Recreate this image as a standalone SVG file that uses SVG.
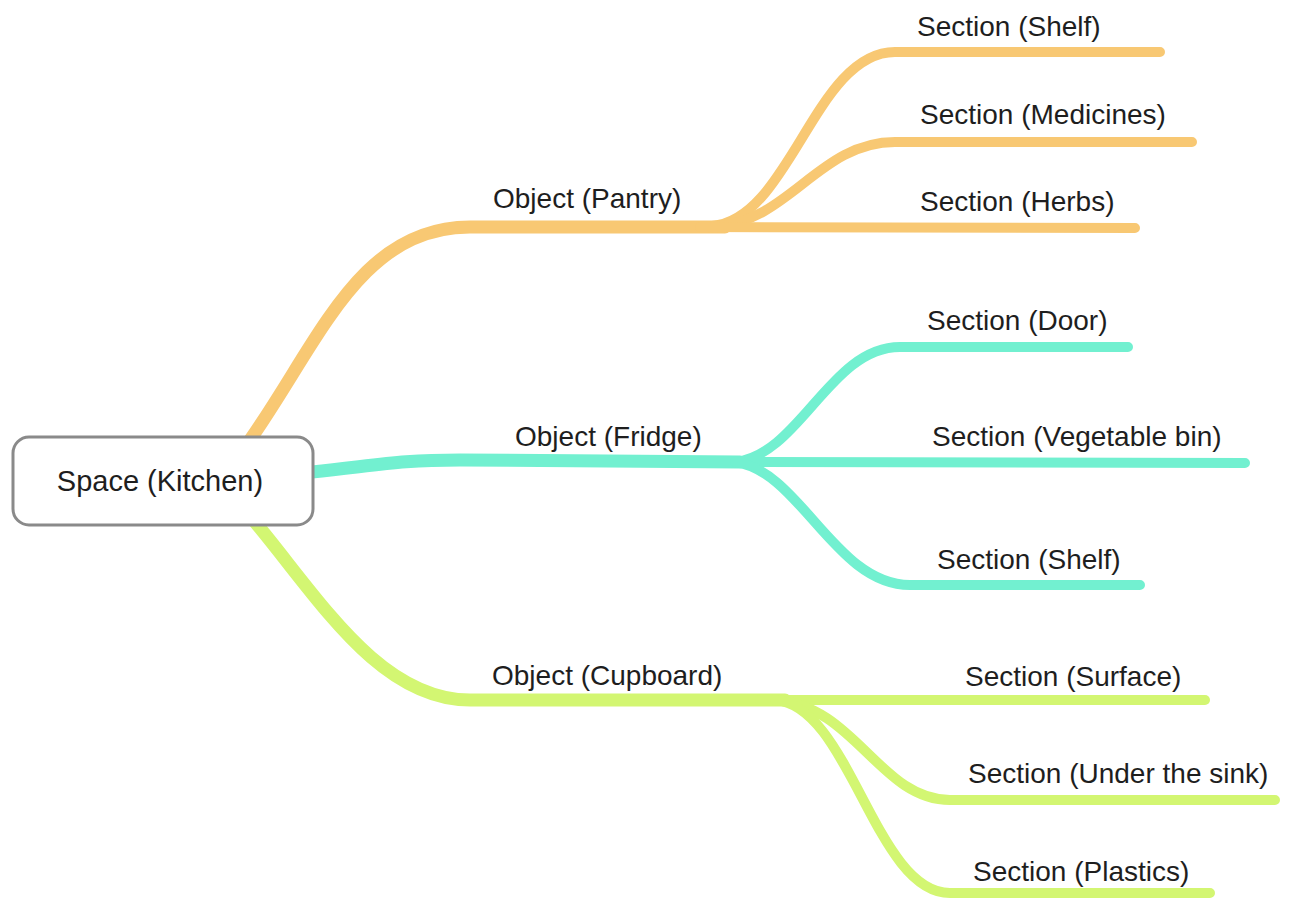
<svg xmlns="http://www.w3.org/2000/svg" width="1301" height="899" viewBox="0 0 1301 899">
<style>
.lbl{font-family:"Liberation Sans",Arial,sans-serif;font-size:28px;fill:#1e1e1e}
.br{fill:none;stroke-linecap:round;stroke-linejoin:round}
.main{stroke-width:13}
.sub{stroke-width:10}
.o{stroke:#F8C873}
.t{stroke:#72F0D0}
.g{stroke:#D3F672}
</style>
<rect width="1301" height="899" fill="#ffffff"/>
<g id="connectors">
<path class="br main o" d="M 250 440 C 320 340 360 227 470 227 L 725 227"/>
<path class="br sub o" d="M 712 226 C 790 220 815 52 895 52 L 1160 52"/>
<path class="br sub o" d="M 718 226 C 790 220 820 142 895 142 L 1192 142"/>
<path class="br sub o" d="M 700 227 L 1135 228"/>
<path class="br main t" d="M 312 472 C 380 465 400 460 460 460 L 740 462"/>
<path class="br sub t" d="M 735 462 C 800 455 830 347 900 347 L 1128 347"/>
<path class="br sub t" d="M 735 462 L 1245 463"/>
<path class="br sub t" d="M 735 462 C 800 470 835 585 910 585 L 1140 585"/>
<path class="br main g" d="M 255 522 C 320 600 380 700 470 700 L 785 700"/>
<path class="br sub g" d="M 760 700 L 1205 700"/>
<path class="br sub g" d="M 775 700 C 855 705 880 800 950 800 L 1275 800"/>
<path class="br sub g" d="M 775 700 C 850 705 875 893 950 893 L 1210 893"/>
</g>
<g id="root">
<rect x="13" y="437" width="300" height="88" rx="16" ry="16" fill="#ffffff" stroke="#8a8a8a" stroke-width="3"/>
<text class="lbl" x="160" y="491" text-anchor="middle" style="font-size:29px">Space (Kitchen)</text>
</g>
<g id="pantry"><text class="lbl" x="493" y="208">Object (Pantry)</text></g>
<g id="pantry-shelf"><text class="lbl" x="917" y="36">Section (Shelf)</text></g>
<g id="pantry-medicines"><text class="lbl" x="920" y="124">Section (Medicines)</text></g>
<g id="pantry-herbs"><text class="lbl" x="920" y="211">Section (Herbs)</text></g>
<g id="fridge"><text class="lbl" x="515" y="446">Object (Fridge)</text></g>
<g id="fridge-door"><text class="lbl" x="927" y="330">Section (Door)</text></g>
<g id="fridge-veg"><text class="lbl" x="932" y="446">Section (Vegetable bin)</text></g>
<g id="fridge-shelf"><text class="lbl" x="937" y="569">Section (Shelf)</text></g>
<g id="cupboard"><text class="lbl" x="492" y="685">Object (Cupboard)</text></g>
<g id="cupboard-surface"><text class="lbl" x="965" y="686">Section (Surface)</text></g>
<g id="cupboard-sink"><text class="lbl" x="968" y="783">Section (Under the sink)</text></g>
<g id="cupboard-plastics"><text class="lbl" x="973" y="881">Section (Plastics)</text></g>
</svg>
